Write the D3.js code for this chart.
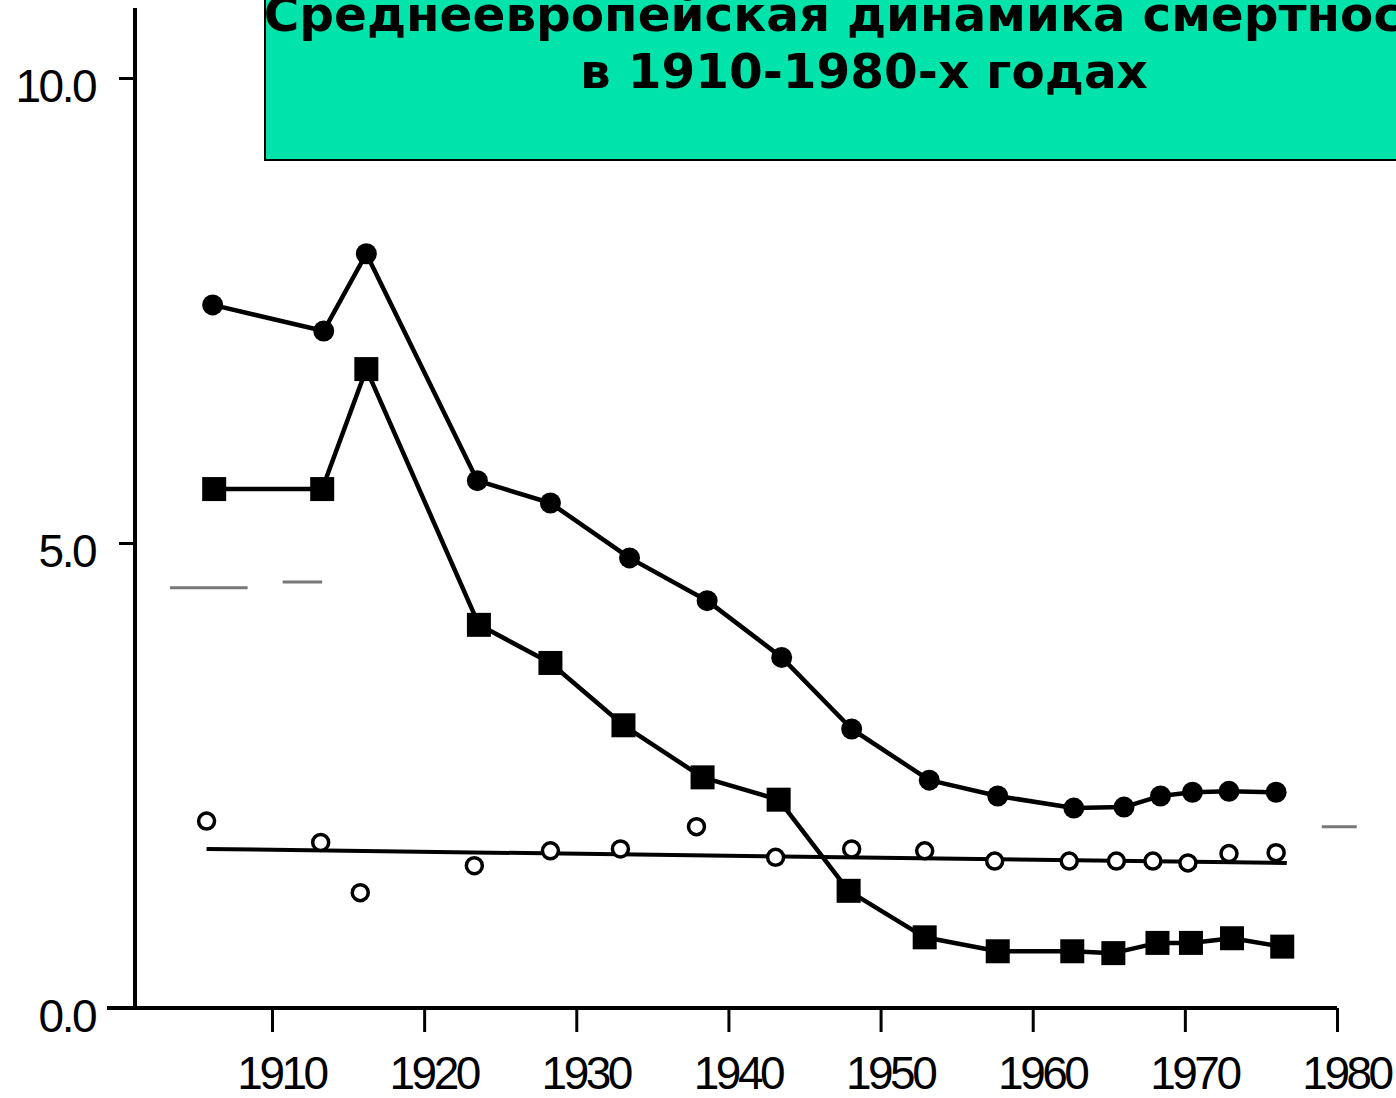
<!DOCTYPE html>
<html>
<head>
<meta charset="utf-8">
<script src="https://cdn.jsdelivr.net/npm/d3@7"></script>
<style>
  body { margin: 0; background: #fff; }
  svg { display: block; }
  .tick text { font-family: "Liberation Sans Narrow", "Liberation Sans", Arial, sans-serif; }
</style>
</head>
<body>
<svg></svg>
<script>
// values (year, death rate)
let filledYears = [1906.1, 1913.4, 1916.2, 1923.5, 1928.3, 1933.5, 1938.6, 1943.5, 1948.1, 1953.2, 1957.7, 1962.7, 1966.0, 1968.4, 1970.5, 1972.9, 1976.0],
    filledVals  = [7.56, 7.28, 8.11, 5.67, 5.43, 4.84, 4.38, 3.77, 3.00, 2.45, 2.28, 2.15, 2.16, 2.28, 2.32, 2.33, 2.32],
    squareYears = [1906.2, 1913.3, 1916.2, 1923.6, 1928.3, 1933.1, 1938.3, 1943.3, 1947.9, 1952.9, 1957.7, 1962.6, 1965.3, 1968.2, 1970.4, 1973.1, 1976.4],
    squareVals  = [5.58, 5.58, 6.87, 4.12, 3.71, 3.04, 2.48, 2.24, 1.26, 0.76, 0.61, 0.61, 0.59, 0.70, 0.70, 0.75, 0.66],
    openYears   = [1905.7, 1913.2, 1915.8, 1923.3, 1928.3, 1932.9, 1937.9, 1943.1, 1948.1, 1952.9, 1957.5, 1962.4, 1965.5, 1967.9, 1970.2, 1972.9, 1976.0],
    openVals    = [2.01, 1.78, 1.24, 1.53, 1.69, 1.71, 1.95, 1.62, 1.71, 1.69, 1.58, 1.58, 1.58, 1.58, 1.56, 1.66, 1.67],
    trendYears  = [1905.7, 1976.7],
    trendVals   = [1.71, 1.56],
    // faint stray dashes left on the scan: [year from, year to, value]
    scanDashes  = [[1903.3, 1908.4, 4.52], [1910.7, 1913.3, 4.58], [1979.0, 1981.3, 1.95]],
    xTicks      = [1910, 1920, 1930, 1940, 1950, 1960, 1970, 1980],
    yTicks      = [0, 5, 10],
    titleLines  = ["Среднеевропейская динамика смертности", "в 1910-1980-х годах"];

let width = 1396, height = 1098,
    axisX = 135, axisY = 1008,
    xScale = d3.scaleLinear().domain([1910, 1980]).range([272, 1337]),
    yScale = d3.scaleLinear().domain([0, 10]).range([axisY, 78]),
    xAxis = d3.axisBottom(xScale).tickValues(xTicks).tickFormat(d3.format("d")).tickSize(24).tickSizeOuter(0).tickPadding(24),
    yAxis = d3.axisLeft(yScale).tickValues(yTicks).tickFormat(d3.format(".1f")).tickSize(16).tickSizeOuter(0).tickPadding(24),

    svg = d3.select("svg")
            .attr("width", width)
            .attr("height", height);

let zip = (xs, ys) => xs.map((x, i) => ({year: x, v: ys[i]})),
    filled = zip(filledYears, filledVals),
    squares = zip(squareYears, squareVals),
    opens = zip(openYears, openVals),
    trend = zip(trendYears, trendVals),
    line = d3.line().x(d => xScale(d.year)).y(d => yScale(d.v));

// axes
let gx = svg.append("g")
    .attr("transform", `translate(0,${axisY})`)
    .call(xAxis);
gx.select(".domain").remove();
gx.append("line")
    .attr("x1", 107).attr("x2", xScale(1980))
    .attr("stroke", "#000").attr("stroke-width", 4);
gx.selectAll(".tick line").attr("stroke-width", 3);
gx.selectAll(".tick text")
    .attr("dx", 9)
    .attr("font-size", 46)
    .attr("letter-spacing", -3.5)
    .attr("fill", "#000");

let gy = svg.append("g")
    .attr("transform", `translate(${axisX},0)`)
    .call(yAxis);
gy.select(".domain").remove();
gy.append("line")
    .attr("y1", 8).attr("y2", axisY + 2)
    .attr("stroke", "#000").attr("stroke-width", 4);
gy.selectAll(".tick line").attr("stroke-width", 3);
gy.selectAll(".tick text")
    .attr("dy", "0.5em")
    .attr("font-size", 46)
    .attr("letter-spacing", -2.5)
    .attr("fill", "#000");

// scan leftovers
svg.selectAll("line.dash")
    .data(scanDashes)
    .enter()
    .append("line")
    .attr("class", "dash")
    .attr("x1", d => xScale(d[0]))
    .attr("x2", d => xScale(d[1]))
    .attr("y1", d => yScale(d[2]))
    .attr("y2", d => yScale(d[2]))
    .attr("stroke", "#777")
    .attr("stroke-width", 3);

// trend line for open circles
svg.append("path")
    .datum(trend)
    .attr("d", line)
    .attr("fill", "none")
    .attr("stroke", "#000")
    .attr("stroke-width", 4);

// lines
[filled, squares].forEach(s => {
  svg.append("path")
      .datum(s)
      .attr("d", line)
      .attr("fill", "none")
      .attr("stroke", "#000")
      .attr("stroke-width", 4.5)
      .attr("stroke-linejoin", "round");
});

svg.selectAll("circle.filled")
    .data(filled)
    .enter()
    .append("circle")
    .attr("class", "filled")
    .attr("cx", d => xScale(d.year))
    .attr("cy", d => yScale(d.v))
    .attr("r", 10.5)
    .attr("fill", "#000");

svg.selectAll("rect.sq")
    .data(squares)
    .enter()
    .append("rect")
    .attr("class", "sq")
    .attr("x", d => xScale(d.year) - 12)
    .attr("y", d => yScale(d.v) - 12)
    .attr("width", 24)
    .attr("height", 24)
    .attr("fill", "#000");

svg.selectAll("circle.open")
    .data(opens)
    .enter()
    .append("circle")
    .attr("class", "open")
    .attr("cx", d => xScale(d.year))
    .attr("cy", d => yScale(d.v))
    .attr("r", 8)
    .attr("fill", "#fff")
    .attr("stroke", "#000")
    .attr("stroke-width", 3.5);

// title box
svg.append("rect")
    .attr("x", 265)
    .attr("y", -10)
    .attr("width", 1200)
    .attr("height", 170)
    .attr("fill", "#00E3AA")
    .attr("stroke", "#000")
    .attr("stroke-width", 2);

svg.selectAll("text.title")
    .data(titleLines)
    .enter()
    .append("text")
    .attr("class", "title")
    .attr("x", 864)
    .attr("y", (d, i) => 31 + i * 57)
    .attr("text-anchor", "middle")
    .attr("font-family", "DejaVu Sans")
    .attr("font-weight", "bold")
    .attr("font-size", 48.5)
    .attr("fill", "#000")
    .text(d => d);
</script>
</body>
</html>
